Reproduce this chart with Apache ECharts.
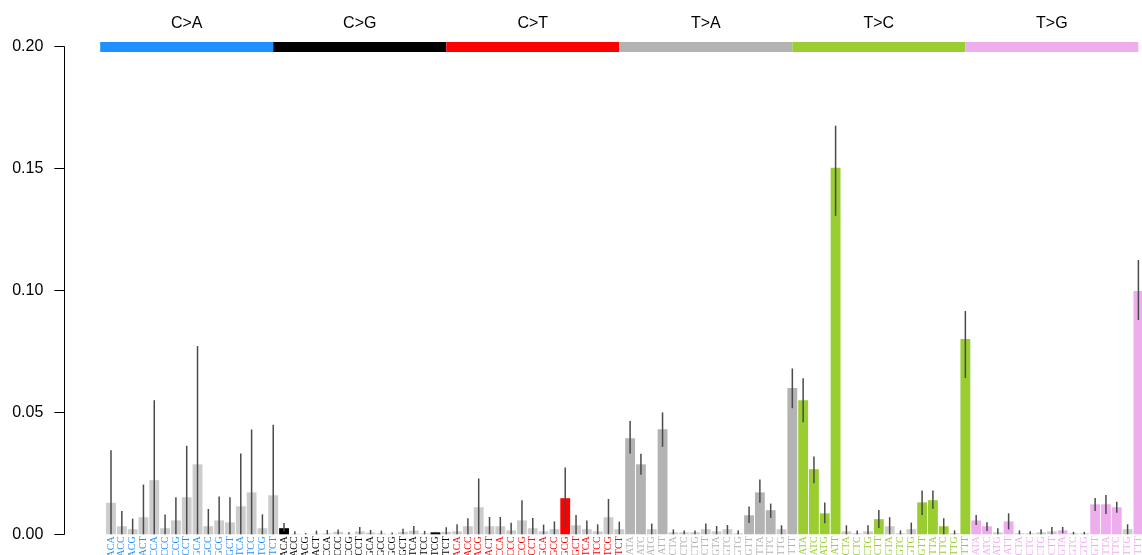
<!DOCTYPE html>
<html>
<head>
<meta charset="utf-8">
<script src="https://cdn.jsdelivr.net/npm/echarts@6/dist/echarts.min.js"></script>
<style>
  html, body { margin: 0; padding: 0; background: #ffffff; }
  #chart { width: 1142px; height: 555px; }
</style>
</head>
<body>
<div id="chart"></div>
<script>
// Mutation classes and their colours
const groups = ['C>A', 'C>G', 'C>T', 'T>A', 'T>C', 'T>G'];
const groupColors = ['#1E90FF', '#000000', '#FF0000', '#B3B3B3', '#9ACD32', '#EEAEEE'];
const nonSigColor = '#CCCCCC';

// Trinucleotide contexts (pyrimidine reference C or T in the middle)
const contextsC = ['ACA','ACC','ACG','ACT','CCA','CCC','CCG','CCT','GCA','GCC','GCG','GCT','TCA','TCC','TCG','TCT'];
const contextsT = ['ATA','ATC','ATG','ATT','CTA','CTC','CTG','CTT','GTA','GTC','GTG','GTT','TTA','TTC','TTG','TTT'];

// Exposure per context, with lower / upper bounds and significance flag
const caValues = [0.0129,0.0033,0.0021,0.0070,0.0222,0.0025,0.0057,0.0152,0.0287,0.0033,0.0057,0.0049,0.0115,0.0172,0.0025,0.0160];
const caLow    = [0,0,0,0,0,0,0,0,0,0,0,0,0,0,0,0];
const caHigh   = [0.0345,0.0096,0.0064,0.0204,0.0550,0.0081,0.0152,0.0363,0.0772,0.0104,0.0155,0.0152,0.0331,0.0430,0.0082,0.0449];
const caSig    = [0,0,0,0,0,0,0,0,0,0,0,0,0,0,0,0];

const cgValues = [0.0025,0.0002,0.0001,0.0002,0.0004,0.0010,0.0002,0.0012,0.0007,0.0004,0.0002,0.0010,0.0015,0.0004,0.0008,0.0010];
const cgLow    = [0.0012,0,0,0,0,0,0,0,0,0,0,0,0,0,0.0004,0];
const cgHigh   = [0.0046,0.0012,0.0005,0.0015,0.0018,0.0020,0.0008,0.0030,0.0018,0.0015,0.0007,0.0023,0.0034,0.0014,0.0010,0.0029];
const cgSig    = [1,0,0,0,0,0,0,0,0,0,0,0,0,0,1,0];

const ctValues = [0.0012,0.0033,0.0111,0.0033,0.0033,0.0016,0.0057,0.0025,0.0012,0.0021,0.0148,0.0037,0.0021,0.0012,0.0070,0.0021];
const ctLow    = [0,0,0,0,0,0,0,0,0,0,0.0027,0,0,0,0,0];
const ctHigh   = [0.0041,0.0066,0.0229,0.0071,0.0071,0.0047,0.0140,0.0067,0.0040,0.0053,0.0274,0.0079,0.0057,0.0041,0.0145,0.0052];
const ctSig    = [0,0,0,0,0,0,0,0,0,0,1,0,0,0,0,0];

const taValues = [0.0394,0.0287,0.0021,0.0431,0.0008,0.0008,0.0008,0.0021,0.0012,0.0021,0.0004,0.0078,0.0172,0.0099,0.0021,0.0600];
const taLow    = [0.0331,0.0244,0,0.0359,0,0,0,0,0,0,0,0.0046,0.0129,0.0067,0,0.0517];
const taHigh   = [0.0465,0.0330,0.0044,0.0500,0.0020,0.0016,0.0016,0.0044,0.0034,0.0038,0.0016,0.0114,0.0225,0.0126,0.0037,0.0680];
const taSig    = [1,1,0,1,0,0,0,0,0,0,0,1,1,1,0,1];

const tcValues = [0.0550,0.0267,0.0086,0.1503,0.0012,0.0004,0.0012,0.0062,0.0033,0.0004,0.0021,0.0131,0.0140,0.0033,0.0004,0.0801];
const tcLow    = [0.0460,0.0209,0.0045,0.1306,0,0,0,0.0026,0,0,0,0.0079,0.0105,0,0,0.0641];
const tcHigh   = [0.0640,0.0319,0.0130,0.1676,0.0037,0.0016,0.0037,0.0100,0.0070,0.0016,0.0048,0.0180,0.0180,0.0066,0.0016,0.0916];
const tcSig    = [1,1,1,1,0,0,0,1,0,0,0,1,1,1,0,1];

const tgValues = [0.0057,0.0033,0.0008,0.0053,0.0004,0.0004,0.0008,0.0012,0.0016,0.0004,0.0004,0.0123,0.0123,0.0111,0.0021,0.0998];
const tgLow    = [0.0038,0.0014,0,0.0020,0,0,0,0,0.0004,0,0,0.0096,0.0083,0.0088,0,0.0879];
const tgHigh   = [0.0079,0.0049,0.0025,0.0086,0.0016,0.0012,0.0021,0.0030,0.0030,0.0010,0.0010,0.0149,0.0161,0.0134,0.0041,0.1125];
const tgSig    = [1,1,0,1,0,0,0,0,1,0,0,1,1,1,0,1];

const yTicks = { min: 0, max: 0.2, interval: 0.05 };

// Assemble the 96-context table from the per-class arrays
const valueSets = [caValues, cgValues, ctValues, taValues, tcValues, tgValues];
const lowSets   = [caLow, cgLow, ctLow, taLow, tcLow, tgLow];
const highSets  = [caHigh, cgHigh, ctHigh, taHigh, tcHigh, tgHigh];
const sigSets   = [caSig, cgSig, ctSig, taSig, tcSig, tgSig];

const categories = [];
const labelColors = [];
const barData = [];
const errData = [];
groups.forEach((g, gi) => {
  const ctx = gi < 3 ? contextsC : contextsT;
  ctx.forEach((c, j) => {
    const idx = gi * 16 + j;
    categories.push(c);
    labelColors.push(groupColors[gi]);
    barData.push({
      value: valueSets[gi][j],
      itemStyle: { color: sigSets[gi][j] ? groupColors[gi] : nonSigColor }
    });
    errData.push([idx, lowSets[gi][j], highSets[gi][j]]);
  });
});
const stripData = groups.map((g, gi) => [gi]);

const chart = echarts.init(document.getElementById('chart'), null, { renderer: 'canvas' });

chart.setOption({
  animation: false,
  backgroundColor: '#ffffff',
  grid: {
    left: 105.6, right: -1.8, top: 46.7, bottom: 20.7,
    containLabel: false,
    outerBoundsMode: 'none'
  },
  xAxis: {
    type: 'category',
    data: categories,
    axisLine: { show: false },
    axisTick: { show: false },
    splitLine: { show: false },
    axisLabel: {
      interval: 0,
      rotate: 90,
      margin: 2,
      fontSize: 10,
      fontFamily: 'Liberation Serif',
      color: (value, index) => labelColors[index]
    }
  },
  yAxis: {
    type: 'value',
    min: yTicks.min,
    max: yTicks.max,
    interval: yTicks.interval,
    offset: 41.3,
    axisLine: { show: true, lineStyle: { color: '#000000', width: 1 } },
    axisTick: { show: true, length: 10, lineStyle: { color: '#000000', width: 1 } },
    splitLine: { show: false },
    axisLabel: {
      margin: 21,
      fontSize: 16,
      fontFamily: 'Liberation Sans',
      color: '#000000',
      formatter: v => v.toFixed(2)
    }
  },
  series: [
    {
      type: 'bar',
      data: barData,
      barCategoryGap: '9%',
      z: 2
    },
    {
      // error bars
      type: 'custom',
      data: errData,
      z: 3,
      renderItem: (params, api) => {
        const x = api.value(0);
        const p1 = api.coord([x, api.value(1)]);
        const p2 = api.coord([x, api.value(2)]);
        return {
          type: 'line',
          shape: { x1: p1[0], y1: p1[1], x2: p2[0], y2: p2[1] },
          style: { stroke: '#4a4a4a', lineWidth: 1.5 }
        };
      }
    },
    {
      // class strips and titles along the top
      type: 'custom',
      data: stripData,
      clip: false,
      z: 4,
      renderItem: (params, api) => {
        const gi = api.value(0);
        const slot = api.size([1, 0])[0];
        const x0 = api.coord([gi * 16, yTicks.max])[0] - slot;
        const x1 = api.coord([gi * 16 + 15, yTicks.max])[0];
        const yTop = api.coord([0, yTicks.max])[1];
        return {
          type: 'group',
          children: [
            {
              type: 'rect',
              shape: { x: x0, y: yTop - 4.7, width: x1 - x0, height: 10 },
              style: { fill: groupColors[gi] }
            },
            {
              type: 'text',
              style: {
                x: (x0 + x1) / 2,
                y: 24,
                text: groups[gi],
                fill: '#000000',
                font: '16px "Liberation Sans"',
                align: 'center',
                verticalAlign: 'middle'
              }
            }
          ]
        };
      }
    }
  ]
});
</script>
</body>
</html>
